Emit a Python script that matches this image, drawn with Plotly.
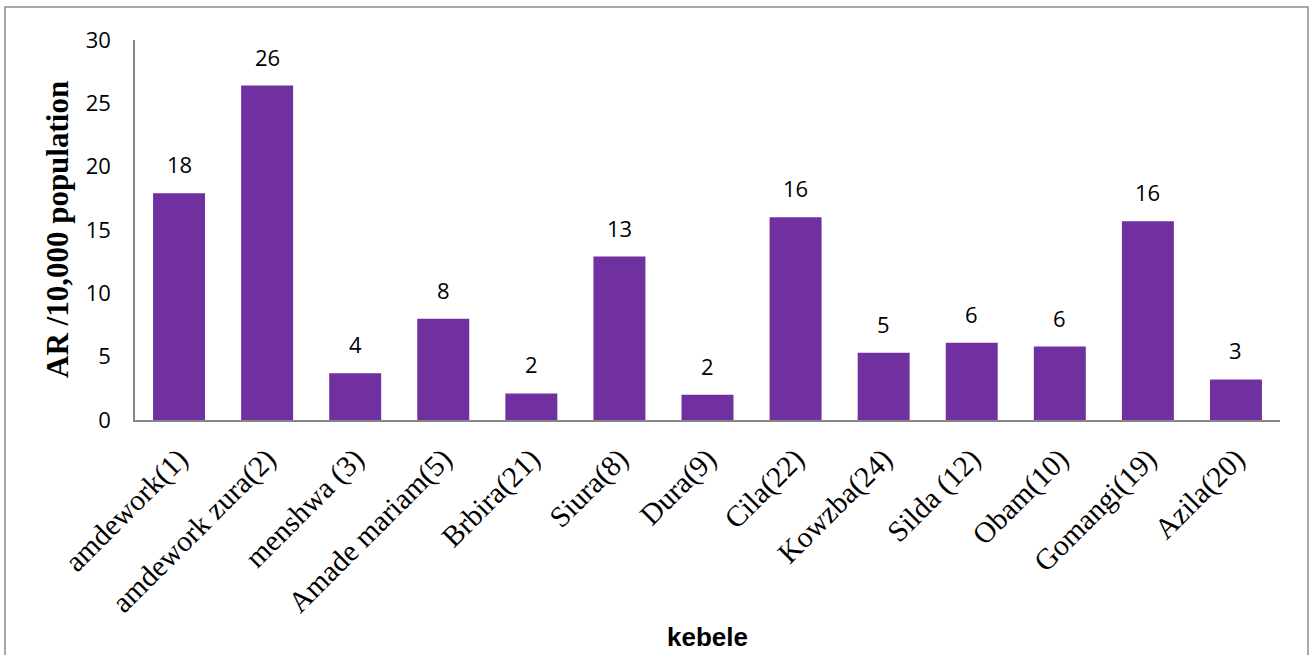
import plotly.graph_objects as go

# Kebele names and attack rate per 10,000 population
kebeles = [
    "amdework(1)", "amdework zura(2)", "menshwa (3)", "Amade mariam(5)",
    "Brbira(21)", "Siura(8)", "Dura(9)", "Cila(22)", "Kowzba(24)",
    "Silda (12)", "Obam(10)", "Gomangi(19)", "Azila(20)",
]
attack_rate = [17.9, 26.4, 3.7, 8.0, 2.1, 12.9, 2.0, 16.0, 5.3, 6.1, 5.8, 15.7, 3.2]
y_ticks = [0, 5, 10, 15, 20, 25, 30]

W, H = 1311, 655
L, R, T, B = 135, 31, 40, 235
PW, PH = W - L - R, H - T - B

BAR = "#7030A0"
AXIS = "#868686"

fig = go.Figure(
    go.Bar(
        x=kebeles,
        y=attack_rate,
        marker=dict(color=BAR, line=dict(width=0)),
        width=0.59,
        hoverinfo="x+y",
    )
)

# value labels above each bar (rounded to whole numbers)
annotations = [
    dict(
        x=k, y=v, xref="x", yref="y",
        text=f"{v:.0f}",
        showarrow=False, yanchor="bottom", yshift=12,
        font=dict(family="Open Sans", size=22, color="#000000"),
    )
    for k, v in zip(kebeles, attack_rate)
]

# y-axis title
annotations.append(dict(
    x=(57 - L) / PW, y=0.5, xref="paper", yref="paper",
    text="<b>AR /10,000 population</b>", textangle=-90,
    showarrow=False, xanchor="center", yanchor="middle",
    font=dict(family="Liberation Serif", size=31, color="#000000"),
))
# x-axis title
annotations.append(dict(
    x=(707 - L) / PW, y=-(637 - (T + PH)) / PH, xref="paper", yref="paper",
    text="<b>kebele</b>", showarrow=False, xanchor="center", yanchor="middle",
    font=dict(family="Liberation Sans", size=26, color="#000000"),
))

# outer chart frame
frame = dict(
    type="rect", xref="paper", yref="paper",
    x0=(5 - L) / PW, x1=(1308 - L) / PW,
    y0=-(700 - (T + PH)) / PH, y1=1 + (T - 7) / PH,
    line=dict(color="#8c8c8c", width=1.5), fillcolor="rgba(0,0,0,0)",
    layer="below",
)

fig.update_layout(
    width=W, height=H,
    margin=dict(l=L, r=R, t=T, b=B),
    paper_bgcolor="white", plot_bgcolor="white",
    showlegend=False,
    annotations=annotations,
    shapes=[frame],
    xaxis=dict(
        type="category",
        tickangle=-45,
        tickfont=dict(family="Liberation Serif", size=29.5, color="#000000"),
        showline=True, linecolor=AXIS, linewidth=1.5,
        ticks="", showgrid=False, zeroline=False,
        ticklabelstandoff=8,
        automargin=False,
    ),
    yaxis=dict(
        range=[0, 30],
        tickvals=y_ticks,
        tickfont=dict(family="Open Sans", size=22, color="#000000"),
        showline=True, linecolor=AXIS, linewidth=1.5,
        ticks="", showgrid=False, zeroline=False,
        ticklabelstandoff=18,
        automargin=False,
    ),
)

fig.write_html("out.html")
